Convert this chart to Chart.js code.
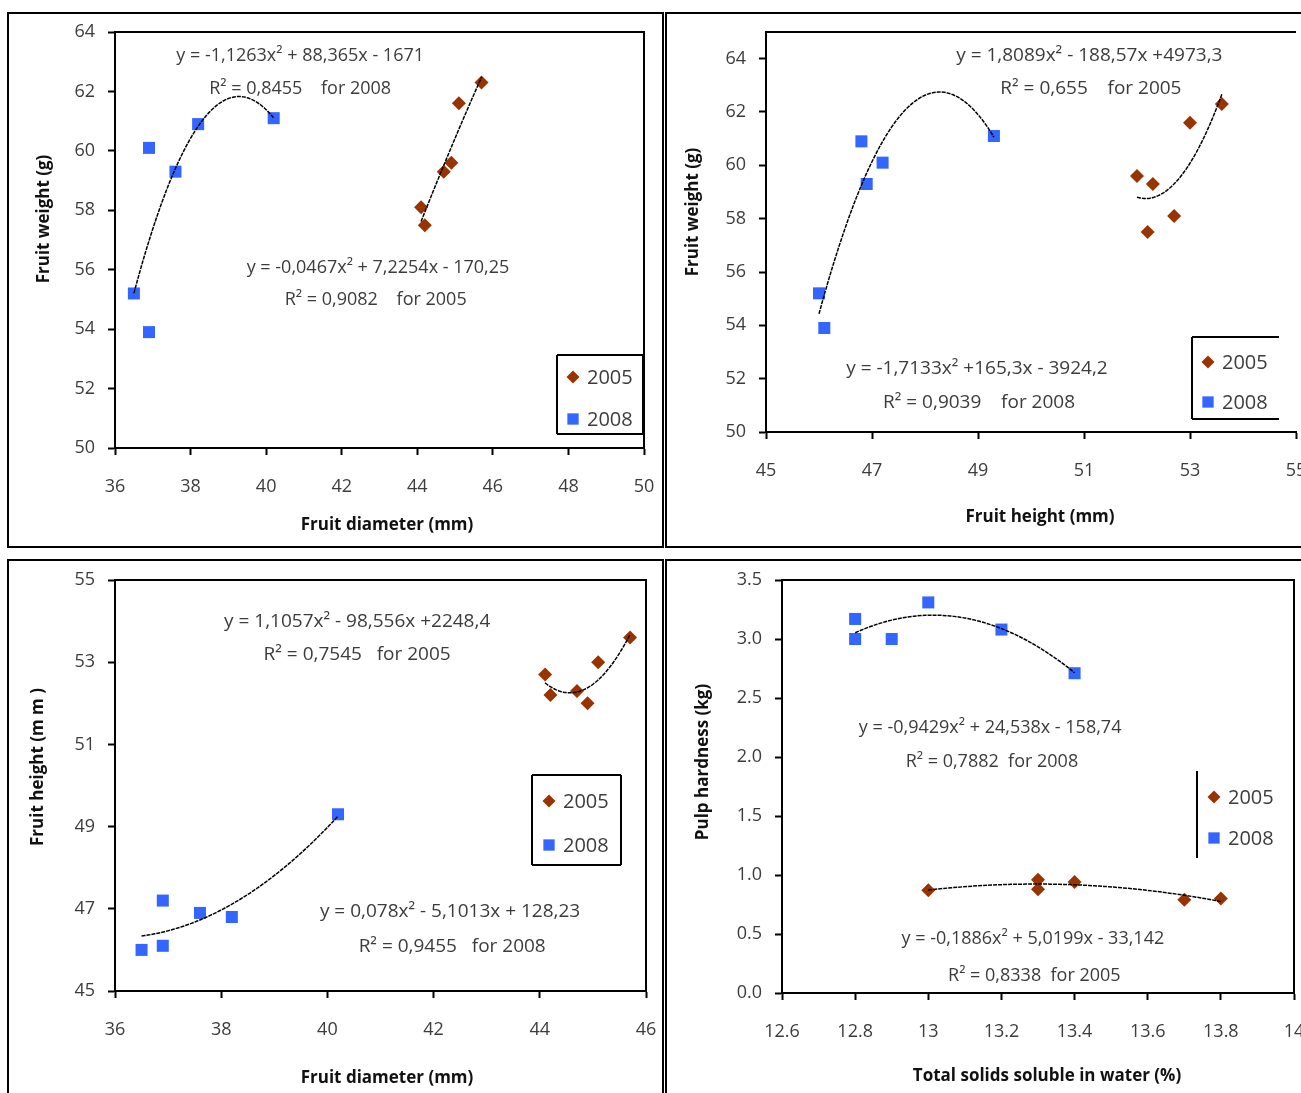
<!DOCTYPE html>
<html>
<head>
<meta charset="utf-8">
<script src="https://cdn.jsdelivr.net/npm/chart.js@4.4.0/dist/chart.umd.min.js"></script>
<style>
  body { margin: 0; background: #fff; width: 1301px; height: 1093px; overflow: hidden; position: relative; }
  .panel { position: absolute; border: 2px solid #000; box-sizing: border-box; }
  canvas { position: absolute; }
</style>
</head>
<body>
<div class="panel" style="left:7px; top:12px; width:657px; height:536px"></div>
<div class="panel" style="left:665px; top:12px; width:700px; height:536px"></div>
<div class="panel" style="left:7px; top:559px; width:657px; height:600px"></div>
<div class="panel" style="left:665px; top:559px; width:700px; height:600px"></div>

<canvas id="peso_diam" width="652" height="531" style="left:10px; top:15px"></canvas>
<canvas id="peso_alto" width="660" height="531" style="left:668px; top:15px"></canvas>
<canvas id="alto_diam" width="652" height="531" style="left:10px; top:562px"></canvas>
<canvas id="dureza" width="650" height="531" style="left:668px; top:562px"></canvas>

<script>
// ---- datos ----
const anios = ['2005', '2008'];

// 2005
const diametro2005 = [44.1, 44.2, 44.7, 44.9, 45.1, 45.7];
const peso2005     = [58.1, 57.5, 59.3, 59.6, 61.6, 62.3];
const altura2005   = [52.7, 52.2, 52.3, 52.0, 53.0, 53.6];
// 2008
const diametro2008 = [36.5, 36.9, 37.6, 38.2, 40.2, 36.9];
const peso2008     = [55.2, 60.1, 59.3, 60.9, 61.1, 53.9];
const altura2008   = [46.0, 47.2, 46.9, 46.8, 49.3, 46.1];

// dureza de pulpa vs solidos solubles
const solidos2005 = [13.0, 13.3, 13.3, 13.4, 13.7, 13.8];
const dureza2005  = [0.87, 0.96, 0.88, 0.94, 0.79, 0.80];
const solidos2008 = [12.8, 12.8, 12.9, 13.0, 13.2, 13.4];
const dureza2008  = [3.17, 3.00, 3.00, 3.31, 3.08, 2.71];

const color2005 = '#993300';
const color2008 = '#3366ff';

window.onload = inicio;

function inicio() {
  graficoPesoDiametro();
  graficoPesoAltura();
  graficoAlturaDiametro();
  graficoDureza();
}

// minimos cuadrados y = a x^2 + b x + c (linea de tendencia polinomica)
function ajusteCuadratico(xs, ys) {
  const n = xs.length;
  const mx = xs.reduce((s, v) => s + v, 0) / n;
  let s1 = 0, s2 = 0, s3 = 0, s4 = 0, t0 = 0, t1 = 0, t2 = 0;
  xs.forEach((x0, i) => {
    const x = x0 - mx, y = ys[i];
    s1 += x; s2 += x * x; s3 += x * x * x; s4 += x * x * x * x;
    t0 += y; t1 += x * y; t2 += x * x * y;
  });
  const m = [[s4, s3, s2, t2], [s3, s2, s1, t1], [s2, s1, n, t0]];
  for (let c = 0; c < 3; c++) {
    for (let r = c + 1; r < 3; r++) {
      const f = m[r][c] / m[c][c];
      for (let k = c; k < 4; k++) m[r][k] -= f * m[c][k];
    }
  }
  const sol = [0, 0, 0];
  for (let r = 2; r >= 0; r--) {
    let s = m[r][3];
    for (let k = r + 1; k < 3; k++) s -= m[r][k] * sol[k];
    sol[r] = s / m[r][r];
  }
  return x => { const u = x - mx; return sol[0] * u * u + sol[1] * u + sol[2]; };
}

function tendencia(xs, ys) {
  const f = ajusteCuadratico(xs, ys);
  const lo = Math.min(...xs), hi = Math.max(...xs);
  const pts = [];
  for (let i = 0; i <= 60; i++) {
    const x = lo + (hi - lo) * i / 60;
    pts.push({ x: x, y: f(x) });
  }
  return pts;
}

function puntos(xs, ys) {
  return xs.map((x, i) => ({ x: x, y: ys[i] }));
}

function series(x05, y05, x08, y08) {
  return [
    { label: anios[0], data: puntos(x05, y05), pointStyle: 'rectRot', pointRadius: 7,
      backgroundColor: color2005, borderColor: color2005, borderWidth: 0, order: 2, leyenda: true },
    { label: anios[1], data: puntos(x08, y08), pointStyle: 'rect', pointRadius: 8.5,
      backgroundColor: color2008, borderColor: color2008, borderWidth: 0, order: 2, leyenda: true },
    { label: 't2005', data: tendencia(x05, y05), showLine: true, pointRadius: 0,
      borderColor: '#000', borderWidth: 1.5, borderDash: [4, 1], order: 0 },
    { label: 't2008', data: tendencia(x08, y08), showLine: true, pointRadius: 0,
      borderColor: '#000', borderWidth: 1.5, borderDash: [4, 1], order: 0 }
  ];
}

// ---- plugins: marco, textos, leyenda ----
const marco = {
  id: 'marco',
  afterDraw(chart, args, o) {
    const ctx = chart.ctx, a = chart.chartArea;
    ctx.save();
    ctx.strokeStyle = '#000';
    ctx.lineWidth = 2;
    ctx.beginPath();
    ctx.moveTo(a.left, a.top);
    ctx.lineTo(a.right, a.top);
    if (o.derecha !== false) ctx.lineTo(a.right, a.bottom);
    ctx.stroke();
    ctx.restore();
  }
};

const textos = {
  id: 'textos',
  afterDraw(chart, args, o) {
    const ctx = chart.ctx;
    const sx = chart.scales.x, sy = chart.scales.y;
    ctx.save();
    ctx.textAlign = 'center';
    ctx.textBaseline = 'middle';
    ctx.fillStyle = '#3c3c3c';
    ctx.font = o.size + 'px "Open Sans"';
    (o.notas || []).forEach(n => {
      ctx.fillText(n.text, sx.getPixelForValue(n.x), sy.getPixelForValue(n.y));
    });
    // titulos de ejes
    ctx.fillStyle = '#111';
    ctx.font = 'bold 17px "Open Sans"';
    const t = o.titulos;
    ctx.fillText(t.x.text, t.x.px, t.x.py);
    ctx.translate(t.y.px, t.y.py);
    ctx.rotate(-Math.PI / 2);
    ctx.fillText(t.y.text, 0, 0);
    ctx.restore();
  }
};

const leyenda = {
  id: 'leyenda',
  afterDraw(chart, args, o) {
    const ctx = chart.ctx, b = o.caja;
    ctx.save();
    ctx.strokeStyle = '#000';
    ctx.lineWidth = 2;
    ctx.beginPath();
    if (o.lados.includes('l')) { ctx.moveTo(b.x1, b.y1); ctx.lineTo(b.x1, b.y2); }
    if (o.lados.includes('t')) { ctx.moveTo(b.x1, b.y1); ctx.lineTo(b.x2, b.y1); }
    if (o.lados.includes('b')) { ctx.moveTo(b.x1, b.y2); ctx.lineTo(b.x2, b.y2); }
    if (o.lados.includes('r')) { ctx.moveTo(b.x2, b.y1); ctx.lineTo(b.x2, b.y2); }
    ctx.stroke();
    ctx.font = '20px "Open Sans"';
    ctx.textBaseline = 'middle';
    ctx.textAlign = 'left';
    chart.data.datasets.filter(d => d.leyenda).forEach((d, i) => {
      const y = o.filas[i];
      ctx.fillStyle = d.backgroundColor;
      Chart.helpers.drawPoint(ctx, { pointStyle: d.pointStyle, radius: d.pointRadius - 0.5, rotation: 0, borderWidth: 0 }, o.mx, y);
      ctx.fillStyle = '#3c3c3c';
      ctx.fillText(d.label, o.tx, y + 1);
    });
    ctx.restore();
  }
};

function ejes(x, y) {
  const eje = (r, pos) => ({
    type: 'linear',
    position: pos,
    min: r.min,
    max: r.max,
    afterFit: s => { if (pos === 'left') s.width = r.size; else s.height = r.size; },
    grid: { drawOnChartArea: false, drawTicks: true, tickLength: 7, tickColor: '#000', tickWidth: 2 },
    border: { display: true, color: '#000', width: 2 },
    ticks: {
      stepSize: r.step,
      includeBounds: false,
      autoSkip: false,
      maxRotation: 0,
      // la separacion de las etiquetas del eje x se consigue con lineHeight
      padding: pos === 'left' ? 13 : 0,
      color: '#3c3c3c',
      font: { family: 'Open Sans', size: 18, lineHeight: pos === 'left' ? 0.4 : '64px' },
      callback: r.fmt || (v => String(+v.toFixed(2)))
    }
  });
  return { x: eje(x, 'bottom'), y: eje(y, 'left') };
}

function opciones(x, y, pad, extra) {
  return {
    responsive: false,
    animation: false,
    layout: { padding: pad },
    scales: ejes(x, y),
    plugins: Object.assign({ legend: { display: false }, tooltip: { enabled: false } }, extra)
  };
}

function graficoPesoDiametro() {
  const ctx = document.getElementById('peso_diam');
  new Chart(ctx, {
    type: 'scatter',
    data: { datasets: series(diametro2005, peso2005, diametro2008, peso2008) },
    options: opciones(
      { min: 36, max: 50, step: 2, size: 98 },
      { min: 50, max: 64, step: 2, size: 105 },
      { top: 17, right: 18, left: 0, bottom: 0 },
      {
        marco: {},
        textos: {
          size: 18,
          notas: [
            { text: 'y = -1,1263x² + 88,365x - 1671', x: 40.9, y: 63.2 },
            { text: 'R² = 0,8455    for 2008', x: 40.9, y: 62.1 },
            { text: 'y = -0,0467x² + 7,2254x - 170,25', x: 42.96, y: 56.06 },
            { text: 'R² = 0,9082    for 2005', x: 42.9, y: 55.0 }
          ],
          titulos: {
            x: { text: 'Fruit diameter (mm)', px: 377, py: 510 },
            y: { text: 'Fruit weight (g)', px: 34, py: 204 }
          }
        },
        leyenda: { caja: { x1: 547, y1: 340, x2: 633, y2: 419 }, lados: 'ltbr', filas: [362, 404], mx: 563, tx: 577 }
      }
    ),
    plugins: [marco, textos, leyenda]
  });
}

function graficoPesoAltura() {
  const ctx = document.getElementById('peso_alto');
  new Chart(ctx, {
    type: 'scatter',
    data: { datasets: series(altura2005, peso2005, altura2008, peso2008) },
    options: opciones(
      { min: 45, max: 55, step: 2, size: 114 },
      { min: 50, max: 65, step: 2, size: 98 },
      { top: 17, right: 32, left: 0, bottom: 0 },
      {
        marco: { derecha: false },
        textos: {
          size: 19,
          notas: [
            { text: 'y = 1,8089x² - 188,57x +4973,3', x: 51.1, y: 64.1 },
            { text: 'R² = 0,655    for 2005', x: 51.13, y: 62.86 },
            { text: 'y = -1,7133x² +165,3x - 3924,2', x: 48.98, y: 52.36 },
            { text: 'R² = 0,9039    for 2008', x: 49.02, y: 51.12 }
          ],
          titulos: {
            x: { text: 'Fruit height (mm)', px: 372, py: 502 },
            y: { text: 'Fruit weight (g)', px: 25, py: 197 }
          }
        },
        leyenda: { caja: { x1: 524, y1: 322, x2: 611, y2: 404 }, lados: 'ltb', filas: [347, 387], mx: 540, tx: 554 }
      }
    ),
    plugins: [marco, textos, leyenda]
  });
}

function graficoAlturaDiametro() {
  const ctx = document.getElementById('alto_diam');
  new Chart(ctx, {
    type: 'scatter',
    data: { datasets: series(diametro2005, altura2005, diametro2008, altura2008) },
    options: opciones(
      { min: 36, max: 46, step: 2, size: 102 },
      { min: 45, max: 55, step: 2, size: 105 },
      { top: 18, right: 16, left: 0, bottom: 0 },
      {
        marco: {},
        textos: {
          size: 19,
          notas: [
            { text: 'y = 1,1057x² - 98,556x +2248,4', x: 40.56, y: 53.99 },
            { text: 'R² = 0,7545   for 2005', x: 40.56, y: 53.19 },
            { text: 'y = 0,078x² - 5,1013x + 128,23', x: 42.31, y: 46.93 },
            { text: 'R² = 0,9455   for 2008', x: 42.35, y: 46.09 }
          ],
          titulos: {
            x: { text: 'Fruit diameter (mm)', px: 377, py: 516 },
            y: { text: 'Fruit height (m m )', px: 28, py: 205 }
          }
        },
        leyenda: { caja: { x1: 522, y1: 213, x2: 611, y2: 303 }, lados: 'ltbr', filas: [239, 283], mx: 539, tx: 553 }
      }
    ),
    plugins: [marco, textos, leyenda]
  });
}

function graficoDureza() {
  const ctx = document.getElementById('dureza');
  new Chart(ctx, {
    type: 'scatter',
    data: { datasets: series(solidos2005, dureza2005, solidos2008, dureza2008) },
    options: opciones(
      { min: 12.6, max: 14, step: 0.2, size: 100 },
      { min: 0, max: 3.5, step: 0.5, size: 114, fmt: v => v.toFixed(1) },
      { top: 18, right: 24, left: 0, bottom: 0 },
      {
        marco: {},
        textos: {
          size: 18,
          notas: [
            { text: 'y = -0,9429x² + 24,538x - 158,74', x: 13.169, y: 2.25 },
            { text: 'R² = 0,7882  for 2008', x: 13.174, y: 1.96 },
            { text: 'y = -0,1886x² + 5,0199x - 33,142', x: 13.286, y: 0.457 },
            { text: 'R² = 0,8338  for 2005', x: 13.29, y: 0.144 }
          ],
          titulos: {
            x: { text: 'Total solids soluble in water (%)', px: 379, py: 514 },
            y: { text: 'Pulp hardness (kg)', px: 35, py: 200 }
          }
        },
        leyenda: { caja: { x1: 529, y1: 209, x2: 529, y2: 296 }, lados: 'l', filas: [235, 276], mx: 546, tx: 560 }
      }
    ),
    plugins: [marco, textos, leyenda]
  });
}
</script>
</body>
</html>
